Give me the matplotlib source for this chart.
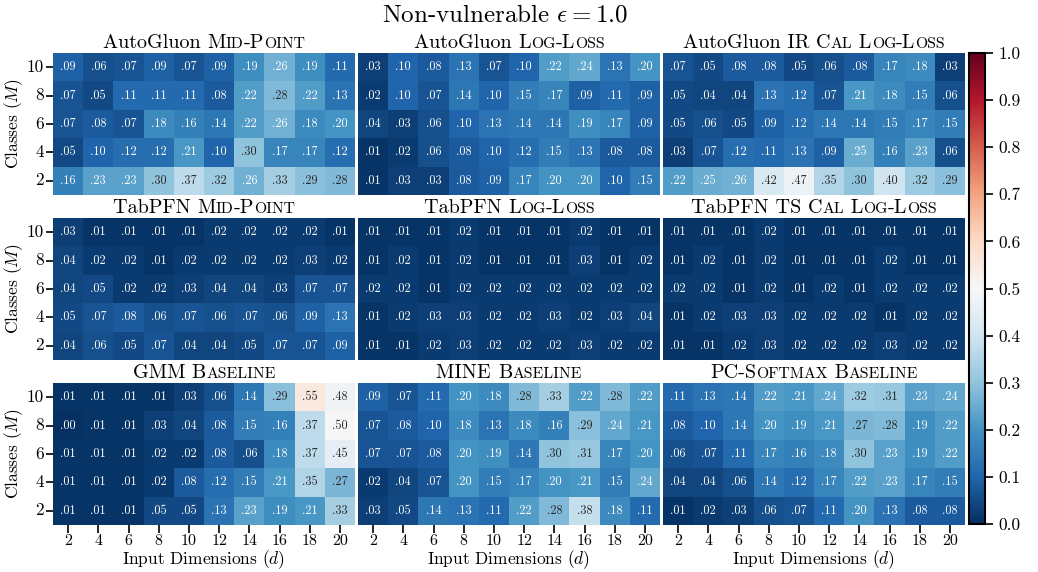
import numpy as np
import matplotlib
matplotlib.use("Agg")
import matplotlib.pyplot as plt
import seaborn as sns
from matplotlib.offsetbox import TextArea, HPacker, AnchoredOffsetbox

plt.rcParams['font.family'] = 'cmr10'
plt.rcParams['mathtext.fontset'] = 'cm'
plt.rcParams['axes.formatter.use_mathtext'] = True

dims = [2, 4, 6, 8, 10, 12, 14, 16, 18, 20]
classes = [10, 8, 6, 4, 2]

# rows: M = 10, 8, 6, 4, 2 ; columns: d = 2..20
ag_mid = [[.09, .06, .07, .09, .07, .09, .19, .26, .19, .11],
          [.07, .05, .11, .11, .11, .08, .22, .28, .22, .13],
          [.07, .08, .07, .18, .16, .14, .22, .26, .18, .20],
          [.05, .10, .12, .12, .21, .10, .30, .17, .17, .12],
          [.16, .23, .23, .30, .37, .32, .26, .33, .29, .28]]
ag_log = [[.03, .10, .08, .13, .07, .10, .22, .24, .13, .20],
          [.02, .10, .07, .14, .10, .15, .17, .09, .11, .09],
          [.04, .03, .06, .10, .13, .14, .14, .19, .17, .09],
          [.01, .02, .06, .08, .10, .12, .15, .13, .08, .08],
          [.01, .03, .03, .08, .09, .17, .20, .20, .10, .15]]
ag_ir = [[.07, .05, .08, .08, .05, .06, .08, .17, .18, .03],
         [.05, .04, .04, .13, .12, .07, .21, .18, .15, .06],
         [.05, .06, .05, .09, .12, .14, .14, .15, .17, .15],
         [.03, .07, .12, .11, .13, .09, .25, .16, .23, .06],
         [.22, .25, .26, .42, .47, .35, .30, .40, .32, .29]]
tab_mid = [[.03, .01, .01, .01, .01, .02, .02, .02, .02, .01],
           [.04, .02, .02, .01, .02, .02, .02, .02, .03, .02],
           [.04, .05, .02, .02, .03, .04, .04, .03, .07, .07],
           [.05, .07, .08, .06, .07, .06, .07, .06, .09, .13],
           [.04, .06, .05, .07, .04, .04, .05, .07, .07, .09]]
tab_log = [[.01, .01, .01, .02, .01, .01, .01, .02, .01, .01],
           [.01, .02, .01, .02, .01, .01, .01, .03, .01, .02],
           [.02, .02, .01, .02, .02, .02, .02, .02, .02, .02],
           [.01, .02, .03, .03, .02, .02, .03, .02, .03, .04],
           [.01, .01, .02, .03, .02, .02, .02, .03, .02, .02]]
tab_ts = [[.01, .01, .01, .02, .01, .01, .01, .01, .01, .01],
          [.01, .02, .01, .02, .01, .01, .01, .02, .01, .01],
          [.02, .02, .01, .02, .01, .02, .01, .02, .02, .02],
          [.01, .02, .03, .03, .02, .02, .02, .01, .02, .02],
          [.01, .01, .02, .03, .02, .02, .02, .03, .02, .02]]
gmm = [[.01, .01, .01, .01, .03, .06, .14, .29, .55, .48],
       [.00, .01, .01, .03, .04, .08, .15, .16, .37, .50],
       [.01, .01, .01, .02, .02, .08, .06, .18, .37, .45],
       [.01, .01, .01, .02, .08, .12, .15, .21, .35, .27],
       [.01, .01, .01, .05, .05, .13, .23, .19, .21, .33]]
mine = [[.09, .07, .11, .20, .18, .28, .33, .22, .28, .22],
        [.07, .08, .10, .18, .13, .18, .16, .29, .24, .21],
        [.07, .07, .08, .20, .19, .14, .30, .31, .17, .20],
        [.02, .04, .07, .20, .15, .17, .20, .21, .15, .24],
        [.03, .05, .14, .13, .11, .22, .28, .38, .18, .11]]
pc_softmax = [[.11, .13, .14, .22, .21, .24, .32, .31, .23, .24],
              [.08, .10, .14, .20, .19, .21, .27, .28, .19, .22],
              [.06, .07, .11, .17, .16, .18, .30, .23, .19, .22],
              [.04, .04, .06, .14, .12, .17, .22, .23, .17, .15],
              [.01, .02, .03, .06, .07, .11, .20, .13, .08, .08]]

# (plain part, small-caps part)
titles = [("AutoGluon ", "Mid-Point"), ("AutoGluon ", "Log-Loss"), ("AutoGluon IR ", "Cal Log-Loss"),
          ("TabPFN ", "Mid-Point"), ("TabPFN ", "Log-Loss"), ("TabPFN TS ", "Cal Log-Loss"),
          ("GMM ", "Baseline"), ("MINE ", "Baseline"), ("", "PC-Softmax Baseline")]
grids = [ag_mid, ag_log, ag_ir, tab_mid, tab_log, tab_ts, gmm, mine, pc_softmax]

W, H = 1038, 572
fig = plt.figure(figsize=(W / 100, H / 100), dpi=100)

TS = 14.5  # panel title size


def small_caps_title(ax, plain, sc):
    # fake small caps: capitals stay full size, lower-case letters become small capitals
    pieces = []
    if plain:
        pieces.append((plain, TS))
    run, big = "", None
    for ch in sc:
        b = not ch.islower()
        if big is not None and b != big:
            pieces.append((run.upper(), TS if big else TS * 0.78))
            run = ""
        run += ch
        big = b
    if run:
        pieces.append((run.upper(), TS if big else TS * 0.78))
    areas = [TextArea(t, textprops=dict(size=s)) for t, s in pieces]
    box = HPacker(children=areas, align="baseline", pad=0, sep=0)
    anc = AnchoredOffsetbox(loc="lower center", child=box, pad=0, borderpad=0, frameon=False,
                            bbox_to_anchor=(0.5, 1.01), bbox_transform=ax.transAxes)
    ax.add_artist(anc)


lefts = [53, 358, 663]
tops = [53, 218, 383]
pw, ph = 302, 142

for i, (grid, (plain, sc)) in enumerate(zip(grids, titles)):
    r, c = divmod(i, 3)
    ax = fig.add_axes([lefts[c] / W, 1 - (tops[r] + ph) / H, pw / W, ph / H])
    vals = np.array(grid)
    labels = np.array([["%.2f" % v for v in row] for row in vals])
    labels = np.char.lstrip(labels, "0")
    sns.heatmap(vals, ax=ax, cmap="RdBu_r", vmin=0, vmax=1, cbar=False,
                annot=labels, fmt="", annot_kws={"size": 8.8, "family": "cmr10"},
                xticklabels=dims, yticklabels=classes)
    small_caps_title(ax, plain, sc)
    ax.tick_params(direction="out", length=5, width=1.2, labelsize=12.5)
    if c == 0:
        ax.set_ylabel("Classes ($M$)", fontsize=12.5, labelpad=1)
        ax.tick_params(axis="y", rotation=0, pad=1.5)
    else:
        ax.set_yticks([])
    if r == 2:
        ax.set_xlabel("Input Dimensions ($d$)", fontsize=12.5, labelpad=0)
        ax.tick_params(axis="x", rotation=0, length=6, pad=1, labelsize=11.5)
    else:
        ax.set_xticks([])

cax = fig.add_axes([969 / W, 1 - 524 / H, 16 / W, 471 / H])
sm = plt.cm.ScalarMappable(cmap="RdBu_r", norm=plt.Normalize(0, 1))
cb = fig.colorbar(sm, cax=cax, ticks=np.arange(0, 1.01, 0.1))
cb.ax.set_yticklabels(["%.1f" % t for t in np.arange(0, 1.01, 0.1)])
cb.ax.tick_params(direction="out", length=6, width=1.2, labelsize=12.5)
cb.outline.set_linewidth(1.5)

fig.text(505.5 / W, 1 - 15 / H, r"Non-vulnerable $\epsilon = 1.0$", ha="center", va="center", fontsize=18)

fig.savefig("out.png", dpi=100)
